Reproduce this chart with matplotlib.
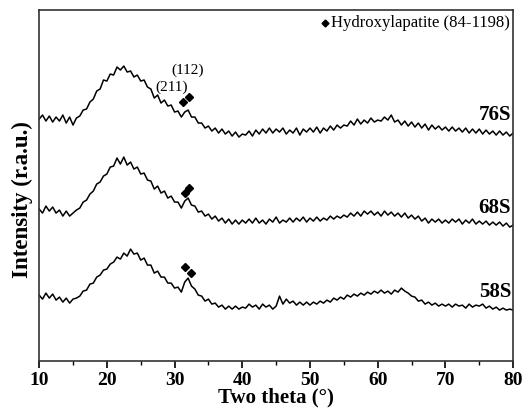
"""
XRD patterns of 58S / 68S / 76S bioactive glasses with hydroxylapatite peaks marked.
"""

import numpy as np
import matplotlib
matplotlib.use("Agg")
import matplotlib.pyplot as plt
from matplotlib.ticker import MultipleLocator

plt.rcParams["font.family"] = ["Liberation Serif", "DejaVu Serif"]

# two theta grid, 0.5 deg steps (10 -> 80)
two_theta = np.arange(10.0, 80.01, 0.5)

# intensities (a.u., already offset per sample)
i_76s = [
    242, 246, 240, 245, 239, 244, 240, 246, 238, 244, 236, 243,
    245, 251, 252, 259, 262, 270, 272, 281, 280, 287,
    286, 294, 291, 295, 289, 290, 284, 286, 280, 281,
    274, 272, 263, 266, 258, 261, 255, 256, 249, 250,
    244, 249, 251, 244, 244, 238, 238, 233, 235, 230,
    233, 228, 232, 227, 230, 225, 229, 224, 227,
    226, 230, 225, 231, 227, 232, 228, 233, 228, 232,
    229, 233, 227, 231, 228, 233, 226, 232, 229, 233,
    229, 234, 228, 233, 230, 235, 231, 236, 233, 236,
    235, 240, 236, 242, 237, 241, 238, 243, 239, 241,
    240, 244, 241, 246, 239, 241, 236, 240, 235, 239,
    234, 238, 233, 237, 231, 236, 232, 235, 231, 234,
    230, 234, 230, 233, 229, 233, 228, 232, 228, 232,
    227, 231, 227, 230, 226, 230, 226, 229, 225, 228,
]
i_68s = [
    152, 148, 155, 150, 154, 148, 151, 145, 150, 145, 148, 151,
    153, 159, 161, 167, 170, 177, 179, 185, 187, 194,
    195, 203, 197, 204, 196, 199, 192, 194, 187, 188,
    181, 180, 172, 175, 168, 170, 163, 165, 159, 159,
    153, 160, 163, 156, 155, 149, 150, 145, 147, 142,
    145, 140, 143, 138, 142, 137, 141, 137, 141,
    138, 142, 138, 143, 138, 141, 137, 142, 139, 144,
    138, 141, 139, 143, 139, 143, 140, 144, 139, 143,
    140, 144, 140, 143, 141, 145, 142, 145, 143, 146,
    144, 148, 145, 149, 145, 150, 147, 150, 146, 149,
    145, 150, 146, 149, 145, 148, 144, 148, 143, 146,
    142, 145, 140, 143, 138, 142, 139, 142, 138, 141,
    138, 142, 139, 142, 137, 141, 138, 142, 137, 140,
    137, 140, 136, 139, 136, 139, 135, 138, 134, 136,
]
i_58s = [
    66, 62, 68, 63, 67, 61, 64, 59, 63, 58, 62, 63,
    65, 70, 71, 77, 78, 84, 86, 91, 92, 97,
    99, 104, 102, 108, 105, 112, 107, 108, 101, 103,
    96, 96, 88, 90, 84, 84, 78, 78, 73, 74,
    69, 79, 83, 75, 72, 66, 65, 60, 62, 57,
    58, 54, 56, 52, 55, 52, 55, 52, 54,
    53, 57, 54, 56, 52, 57, 54, 56, 52, 55,
    65, 57, 62, 58, 60, 56, 59, 56, 59, 56,
    59, 57, 60, 58, 61, 59, 63, 61, 64, 62,
    66, 64, 67, 65, 68, 66, 69, 67, 70, 68,
    71, 68, 70, 67, 71, 69, 73, 70, 68, 65,
    64, 60, 61, 57, 59, 56, 58, 55, 57, 55,
    57, 54, 57, 55, 56, 53, 57, 54, 56, 55,
    57, 53, 55, 52, 54, 51, 53, 51, 52, 51,
]

samples = ["76S", "68S", "58S"]
label_y = [246, 153, 69]

# hydroxylapatite (211) / (112) markers per sample: (x, y)
hap_211 = [(31.2, 259), (31.5, 168), (31.6, 94)]
hap_112 = [(32.2, 264), (32.2, 173), (32.5, 88)]

fig = plt.figure(figsize=(5.22, 4.17), dpi=100)
ax = fig.add_axes([0.075, 0.134, 0.908, 0.842])

for series in (i_76s, i_68s, i_58s):
    ax.plot(two_theta, series, color="black", lw=1.1)

for name, y in zip(samples, label_y):
    ax.text(79.7, y, name, ha="right", va="center", fontsize=15, fontweight="bold")

for (x1, y1), (x2, y2) in zip(hap_211, hap_112):
    ax.plot([x1, x2], [y1, y2], ls="none", marker="D", ms=4.5, color="black")

ax.text(29.5, 274, "(211)", ha="center", va="center", fontsize=11)
ax.text(32.0, 291, "(112)", ha="center", va="center", fontsize=11)

# legend entry in the corner
ax.plot([52.2], [338], ls="none", marker="D", ms=3.5, color="black")
ax.text(53.1, 338, "Hydroxylapatite (84-1198)", ha="left", va="center", fontsize=12)

ax.set_xlim(10, 80)
ax.set_ylim(0, 351)
ax.xaxis.set_major_locator(MultipleLocator(10))
ax.xaxis.set_minor_locator(MultipleLocator(5))
ax.set_yticks([])
ax.tick_params(axis="x", which="major", direction="out", length=5, width=1.2,
               labelsize=14, pad=3)
ax.tick_params(axis="x", which="minor", direction="out", length=3, width=1.0)
for lbl in ax.get_xticklabels():
    lbl.set_fontweight("bold")
for sp in ax.spines.values():
    sp.set_linewidth(1.2)
    sp.set_color("#333333")

ax.set_xlabel("Two theta (\u00b0)", fontsize=15, fontweight="bold", labelpad=-1)
ax.set_ylabel("Intensity (r.a.u.)", fontsize=16.5, fontweight="bold")
ax.yaxis.set_label_coords(-0.014, 0.46)

fig.savefig("out.png", dpi=100)
